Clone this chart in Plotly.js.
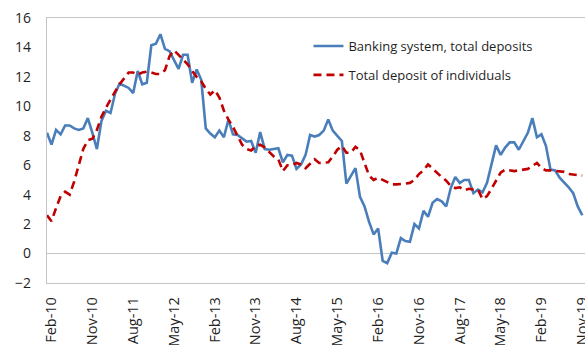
<!DOCTYPE html>
<html>
<head>
<meta charset="utf-8">
<script src="https://cdn.plot.ly/plotly-3.0.1.min.js"></script>
<style>
  html, body { margin: 0; padding: 0; background: #fff; overflow: hidden; }
  #chart { width: 585px; height: 345px; }
</style>
</head>
<body>
<div id="chart"></div>
<script>
// Month labels Jan-10 .. Nov-19
const monthNames = ['Jan','Feb','Mar','Apr','May','Jun','Jul','Aug','Sep','Oct','Nov','Dec'];
const months = [];
for (let y = 10; y <= 19; y++) {
  for (let m = 0; m < 12; m++) {
    if (y === 19 && m > 10) break;
    months.push(monthNames[m] + '-' + y);
  }
}

// Tick labels shown on the axis
const tickLabels = ['Feb-10','Nov-10','Aug-11','May-12','Feb-13','Nov-13','Aug-14',
                    'May-15','Feb-16','Nov-16','Aug-17','May-18','Feb-19','Nov-19'];

// Banking system, total deposits (% y/y), Jan-10 .. Nov-19
const bankingTotal = [
  8.2, 7.4, 8.4, 8.1, 8.7, 8.7, 8.5, 8.4, 8.5, 9.2, 8.2, 7.1,
  9.0, 9.7, 9.55, 10.85, 11.55, 11.4, 11.25, 10.9, 12.4, 11.5, 11.6, 14.15,
  14.25, 14.9, 13.9, 13.75, 13.2, 12.55, 13.5, 13.5, 11.6, 12.5, 11.8, 8.5,
  8.15, 7.9, 8.35, 7.9, 9.1, 8.1, 8.05, 7.85, 7.6, 7.65, 6.85, 8.25,
  7.1, 7.05, 7.1, 7.15, 6.2, 6.7, 6.65, 5.75, 6.05, 6.7, 8.05, 7.95,
  8.05, 8.35, 9.1, 8.35, 8.0, 7.65, 4.75, 5.3, 5.8, 3.85, 3.2, 2.15,
  1.3, 1.7, -0.5, -0.65, 0.05, 0.0, 1.05, 0.85, 0.8, 2.0, 1.7, 2.9,
  2.5, 3.45, 3.7, 3.55, 3.2, 4.45, 5.2, 4.8, 5.0, 5.0, 4.1, 4.35,
  4.15, 4.8, 6.0, 7.35, 6.7, 7.2, 7.55, 7.55, 7.05, 7.6, 8.2, 9.2,
  7.9, 8.1, 7.3, 5.7, 5.65, 5.15, 4.85, 4.5, 4.1, 3.2, 2.6
];

// Total deposit of individuals (% y/y), Jan-10 .. Nov-19
const individualsTotal = [
  2.6, 2.2, 3.1, 3.9, 4.2, 4.0, 4.9, 6.1, 7.1, 7.7, 7.8, 8.4,
  9.3, 9.9, 10.5, 11.0, 11.5, 11.9, 12.3, 12.3, 12.15, 12.3, 12.35, 12.3,
  12.2, 12.2, 12.45, 13.4, 13.8, 13.5, 13.2, 12.85, 12.4, 12.0, 11.7, 11.2,
  10.8, 11.1, 10.6, 9.7, 9.1, 8.6, 8.0, 7.4, 7.1, 7.0, 7.3, 7.4,
  7.2, 6.9, 6.6, 6.4, 5.6, 6.0, 6.0, 6.15, 6.05, 5.8, 6.1, 6.4,
  6.15, 6.15, 6.2, 6.6, 7.05, 7.3, 6.85, 6.85, 7.25, 7.0, 6.15, 5.3,
  5.0, 5.15, 5.0, 4.85, 4.7, 4.7, 4.7, 4.75, 4.8, 5.0, 5.4, 5.65,
  6.05, 5.75, 5.45, 5.2, 4.95, 4.6, 4.45, 4.5, 4.3, 4.4, 4.35, 4.35,
  3.7, 3.9, 4.4, 5.0, 5.5, 5.7, 5.65, 5.6, 5.65, 5.7, 5.75, 5.95,
  6.15, 5.8, 5.65, 5.65, 5.6, 5.55, 5.55, 5.4, 5.35, 5.35, 5.3
];

const yTicks = [-2, 0, 2, 4, 6, 8, 10, 12, 14, 16];

const FONT = '"Open Sans", "Noto Sans", sans-serif';

const traces = [
  {
    x: months, y: bankingTotal, type: 'scatter', mode: 'lines',
    name: 'Banking system, total deposits',
    line: { color: '#4A7EBB', width: 2.6 },
    legend: 'legend'
  },
  {
    x: months, y: individualsTotal, type: 'scatter', mode: 'lines',
    name: 'Total deposit of individuals',
    line: { color: '#C00000', width: 2.6, dash: '8px,5px' },
    legend: 'legend2'
  }
];

const layout = {
  width: 585, height: 345,
  margin: { l: 47, r: 0, t: 18, b: 62, pad: 0 },
  paper_bgcolor: '#ffffff', plot_bgcolor: '#ffffff',
  font: { family: FONT, size: 14, color: '#1f1f1f' },
  showlegend: true,
  xaxis: {
    type: 'category',
    range: [0, 118.6],
    tickmode: 'array',
    tickvals: tickLabels,
    ticktext: tickLabels,
    tickangle: -90,
    ticks: '',
    ticklabelstandoff: 7,
    tickfont: { family: FONT, size: 14.5, color: '#1f1f1f' },
    showgrid: false,
    showline: true, linecolor: '#c4c4c4', linewidth: 1.3,
    mirror: true,
    zeroline: false
  },
  yaxis: {
    range: [-2, 16],
    tickmode: 'array',
    tickvals: yTicks,
    ticks: '',
    ticklabelstandoff: 12,
    tickfont: { family: FONT, size: 14, color: '#1f1f1f' },
    showgrid: false,
    showline: true, linecolor: '#c4c4c4', linewidth: 1.3,
    mirror: false,
    zeroline: true, zerolinecolor: '#c4c4c4', zerolinewidth: 1.3
  },
  legend: {
    x: 0.486, y: 0.894, xanchor: 'left', yanchor: 'middle',
    bgcolor: 'rgba(0,0,0,0)', borderwidth: 0,
    font: { family: FONT, size: 13, color: '#1f1f1f' }
  },
  legend2: {
    x: 0.486, y: 0.785, xanchor: 'left', yanchor: 'middle',
    bgcolor: 'rgba(0,0,0,0)', borderwidth: 0,
    font: { family: FONT, size: 13, color: '#1f1f1f' }
  }
};

Plotly.newPlot('chart', traces, layout, { staticPlot: true, displayModeBar: false });
</script>
</body>
</html>
